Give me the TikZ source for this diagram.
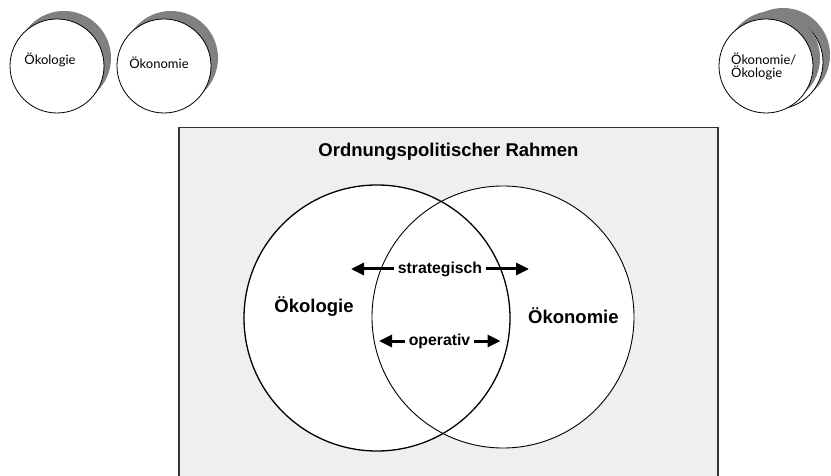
\documentclass[tikz,border=0pt]{standalone}
\usepackage{fontspec}
\setmainfont{Liberation Sans}
\newfontfamily\smallfont{Lato}
\usetikzlibrary{arrows.meta}
\definecolor{boxgray}{HTML}{EFEFEF}
\definecolor{shadowgray}{HTML}{808080}
\definecolor{framecol}{HTML}{333333}
\begin{document}
\begin{tikzpicture}[x=1pt,y=-1pt,
  smallcirc/.style={circle, draw=black, line width=0.8pt, fill=white, minimum size=94pt, inner sep=0pt},
  shadowcirc/.style={circle, fill=shadowgray, minimum size=94pt, inner sep=0pt},
  smalltext/.style={font=\smallfont\fontsize{13}{11.5}\selectfont, inner sep=0pt},
  frame/.style={rectangle, draw=framecol, line width=1.5pt, fill=boxgray, minimum width=539pt, minimum height=380pt, inner sep=0pt},
  venn/.style={circle, fill=white, inner sep=0pt},
  biglabel/.style={font=\fontsize{18.5}{22}\selectfont\bfseries, inner sep=0pt},
  arrlabel/.style={font=\fontsize{15.8}{18}\selectfont\bfseries, inner xsep=4pt, inner ysep=2pt},
  arr/.style={-{Triangle[length=13pt,width=12pt]}, line width=3pt}
]
\useasboundingbox (0,0) rectangle (831,476);
\clip (0,0) rectangle (831,476);
\fill[white] (0,0) rectangle (831,476);

% top-left small circles
\node[shadowcirc] (s1) at (64,58) {};
\node[smallcirc] (c1) at (57,66) {};
\node[smalltext] (t1) at (50,60) {Ökologie};
\node[shadowcirc] (s2) at (171,58) {};
\node[smallcirc] (c2) at (164,66) {};
\node[smalltext] (t2) at (159,63) {Ökonomie};

% top-right stacked circles
\node[shadowcirc] (s3b) at (783,55) {};
\node[smallcirc] (c3b) at (776,62) {};
\node[shadowcirc] (s3) at (773,58) {};
\node[smallcirc] (c3) at (766,66) {};
\node[smalltext, align=left, anchor=west] (t3) at (731,66) {Ökonomie/\\Ökologie};

% frame
\node[frame, anchor=north] (box) at (448.4,127) {};
\node[biglabel] (title) at (448.5,152) {Ordnungspolitischer Rahmen};

% Venn circles
\node[venn, minimum size=266pt] (L) at (377,318) {};
\node[venn, minimum size=262pt] (R) at (503,317) {};
\draw[line width=1.3pt] (L.center) circle[radius=133];
\draw[line width=0.9pt] (R.center) circle[radius=131];

\node[biglabel] (oek) at (314,307) {Ökologie};
\node[biglabel] (okon) at (573.4,316) {Ökonomie};

% arrows
\node[arrlabel] (strat) at (440,269) {strategisch};
\coordinate (sL) at (351,269);
\coordinate (sR) at (529,269);
\draw[arr] (strat.west) -- (sL);
\draw[arr] (strat.east) -- (sR);

\node[arrlabel] (oper) at (439.5,341) {operativ};
\coordinate (oL) at (379,341);
\coordinate (oR) at (500.5,341);
\draw[arr] (oper.west) -- (oL);
\draw[arr] (oper.east) -- (oR);
\end{tikzpicture}
\end{document}
